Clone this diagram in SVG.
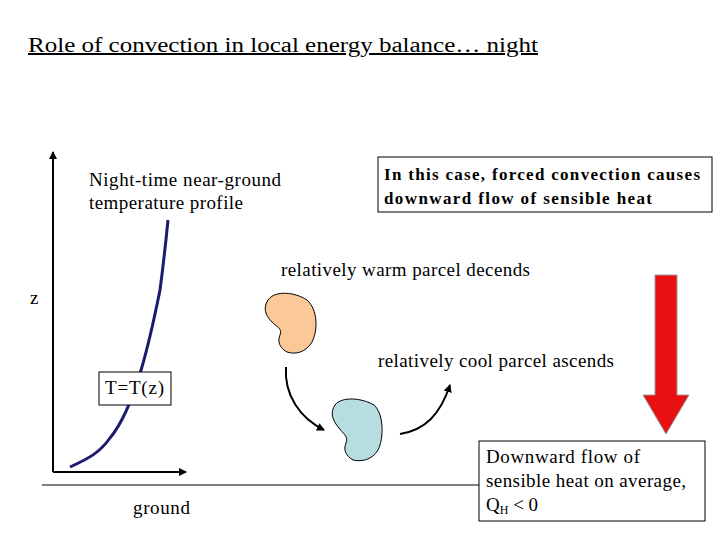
<svg xmlns="http://www.w3.org/2000/svg" width="720" height="540" viewBox="0 0 720 540">
<style>
text{font-family:"Liberation Serif",serif;fill:#000}
.t{font-size:19px}
.box{fill:#fff;stroke:#000;stroke-width:1}
</style>
<defs>
<marker id="ah" markerWidth="8" markerHeight="8" refX="7" refY="4" orient="auto" markerUnits="userSpaceOnUse"><path d="M0,0 L8,4 L0,8 Z" fill="#000"/></marker>
</defs>
<rect width="720" height="540" fill="#fff"/>
<text x="28" y="52" font-size="20" text-decoration="underline" textLength="510" lengthAdjust="spacingAndGlyphs">Role of convection in local energy balance… night</text>
<g id="axes">
<line x1="53" y1="472" x2="53" y2="152" stroke="#000" stroke-width="2" marker-end="url(#ah)"/>
<line x1="53" y1="472" x2="186" y2="472" stroke="#000" stroke-width="2" marker-end="url(#ah)"/>
<line x1="42" y1="485" x2="479" y2="485" stroke="#000" stroke-width="1"/>
<text class="t" x="30" y="304">z</text>
<text class="t" x="133" y="514" textLength="57">ground</text>
</g>
<g id="profile">
<path d="M70,467 C90,458 100,452 110,438 C135,408 150,340 160,290 C164,260 166,240 168,220" fill="none" stroke="#1a1a6e" stroke-width="3"/>
<text class="t" x="89" y="186" textLength="192">Night-time near-ground</text>
<text class="t" x="89" y="209" textLength="154">temperature profile</text>
</g>
<g id="tz">
<rect class="box" x="99" y="372" width="72" height="33"/>
<text class="t" x="105" y="394" textLength="59">T=T(z)</text>
</g>
<g id="note">
<rect class="box" x="378" y="157" width="334" height="55"/>
<text x="384" y="180" font-size="17" font-weight="bold" textLength="316">In this case, forced convection causes</text>
<text x="384" y="204" font-size="17" font-weight="bold" textLength="268">downward flow of sensible heat</text>
</g>
<g id="warm">
<path d="M268,300 C275,290 295,292 307,300 C318,310 318,330 312,342 C306,352 296,355 287,352 C280,348 277,342 280,335 C283,328 275,326 272,322 C265,315 263,308 268,300 Z" fill="#fbc898" stroke="#000" stroke-width="1"/>
<text class="t" x="281" y="276" textLength="249">relatively warm parcel decends</text>
</g>
<g id="cool">
<path d="M335,405 C342,396 362,398 374,405 C384,414 384,438 378,450 C372,460 362,462 353,460 C346,456 343,450 346,443 C349,436 342,433 339,428 C332,420 330,412 335,405 Z" fill="#b8dde1" stroke="#000" stroke-width="1"/>
<text class="t" x="378" y="367" textLength="236">relatively cool parcel ascends</text>
</g>
<g id="connectors">
<path d="M286,367 C284,395 300,418 324,430" fill="none" stroke="#000" stroke-width="2" marker-end="url(#ah)"/>
<path d="M400,434 C425,430 440,415 450,385" fill="none" stroke="#000" stroke-width="2" marker-end="url(#ah)"/>
</g>
<g id="redarrow">
<path d="M655,275 L677,275 L677,395 L689,395 L666,434 L643,395 L655,395 Z" fill="#e81010" stroke="#999" stroke-width="1"/>
</g>
<g id="summary">
<rect class="box" x="479" y="441" width="226" height="80"/>
<text class="t" x="486" y="463" textLength="154">Downward flow of</text>
<text class="t" x="486" y="487" textLength="200">sensible heat on average,</text>
<text class="t" x="486" y="511">Q<tspan font-size="12" dy="3">H</tspan><tspan dy="-3"> &lt; 0</tspan></text>
</g>
</svg>
